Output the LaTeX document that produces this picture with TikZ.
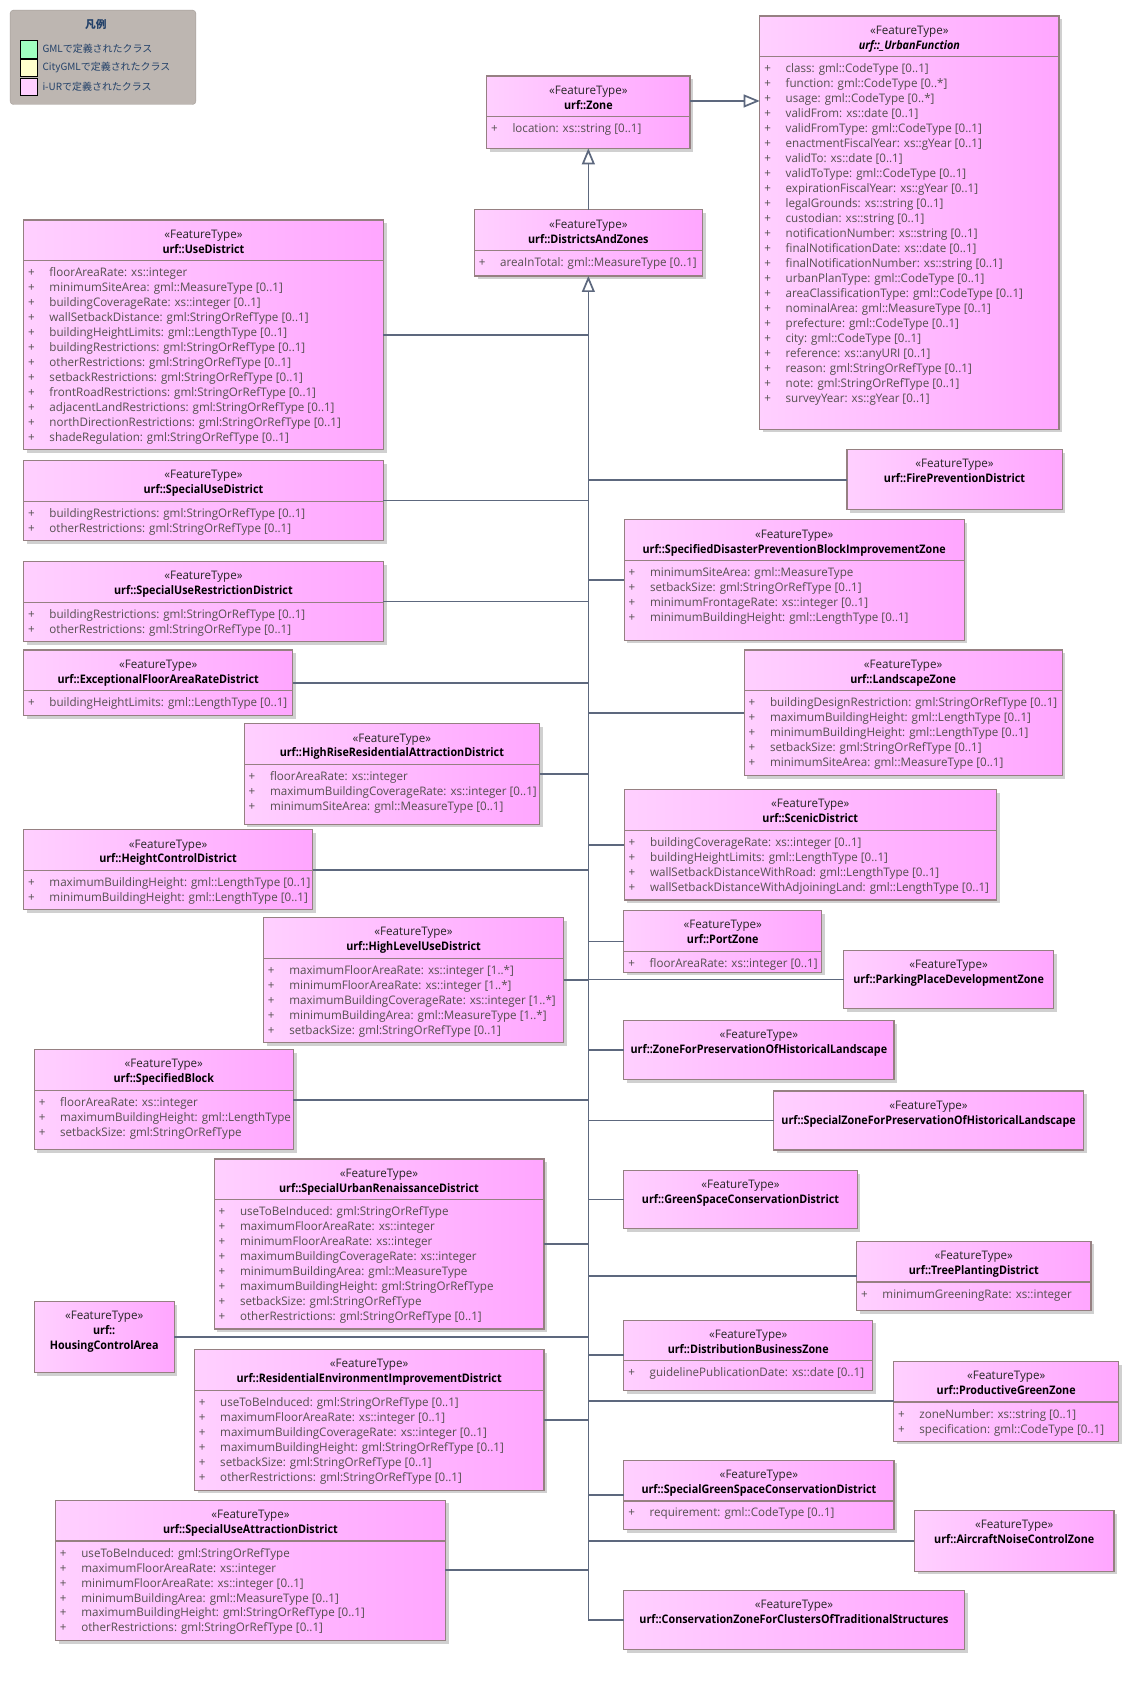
\documentclass[tikz,border=0pt]{standalone}
\usepackage{fontspec}
\setmainfont{Open Sans}[FakeStretch=0.985]
\newfontfamily\jpfont{Noto Sans CJK JP}
\newfontfamily\titlefont{Open Sans}[FakeStretch=0.915]
\usetikzlibrary{arrows.meta,calc}

\definecolor{pinkL}{RGB}{255,208,255}
\definecolor{pinkR}{RGB}{255,166,255}
\definecolor{boxborder}{RGB}{150,128,130}
\definecolor{shadowc}{RGB}{208,208,208}
\definecolor{connc}{RGB}{93,104,126}
\definecolor{attrc}{RGB}{85,80,80}
\definecolor{legfill}{RGB}{189,182,177}
\definecolor{legborder}{RGB}{165,158,152}
\definecolor{legtext}{RGB}{35,65,105}
\definecolor{leggreen}{RGB}{160,255,192}
\definecolor{legyellow}{RGB}{255,255,204}
\definecolor{legpink}{RGB}{255,208,255}

\tikzset{
 classbox/.style={draw=boxborder, line width=1.1pt, left color=pinkL, right color=pinkR, inner sep=0pt, outer sep=0pt},
 boxshadow/.style={fill=shadowc},
 sepline/.style={draw=boxborder, line width=1.1pt},
 stereo/.style={anchor=base, inner sep=0pt, font=\fontsize{11}{14}\selectfont, text=black!85},
 ctitle/.style={anchor=base, inner sep=0pt, font=\fontsize{11}{14}\selectfont\titlefont\bfseries, text=black},
 attr/.style={anchor=base west, inner sep=0pt, font=\fontsize{11}{14}\selectfont, text=attrc},
 conn/.style={draw=connc, line width=1.6pt},
 genarrow/.style={conn, -{Triangle[length=15pt, width=12pt, fill=white]}},
 legsq/.style={draw=black, line width=0.9pt, minimum size=16pt, inner sep=0pt, anchor=north west},
 legtxt/.style={anchor=west, inner sep=0pt, font=\jpfont\fontsize{9.3}{11}\selectfont, text=legtext},
}

% id, x1, y1, x2, y2, title, attributes
\newcommand{\umlbox}[7]{%
 \fill[boxshadow] (#2+3,#3+3) rectangle (#4+3,#5+3);
 \node[classbox, anchor=north west, minimum width={#4-#2}, minimum height={#5-#3}] (#1) at (#2,#3) {};
 \node[stereo] (#1-s) at ({(#2+#4)/2},#3+17) {«FeatureType»};
 \node[ctitle] (#1-t) at ({(#2+#4)/2},#3+31) {#6};
 \draw[sepline] (#2,#3+38) -- (#4,#3+38);
 \foreach \a [count=\i from 0] in {#7} {
   \node[attr] (#1-p\i) at (#2+4,#3+53+14*\i) {+};
   \node[attr] (#1-a\i) at (#2+24,#3+53+14*\i) {\a};
 }
}
% id, x1, y1, x2, y2, title (no attributes)
\newcommand{\umlboxN}[6]{%
 \fill[boxshadow] (#2+3,#3+3) rectangle (#4+3,#5+3);
 \node[classbox, anchor=north west, minimum width={#4-#2}, minimum height={#5-#3}] (#1) at (#2,#3) {};
 \node[stereo] (#1-s) at ({(#2+#4)/2},#3+17) {«FeatureType»};
 \node[ctitle] (#1-t) at ({(#2+#4)/2},#3+31) {#6};
}

\begin{document}
\begin{tikzpicture}[x=1pt,y=-1pt]
\fill[white] (0,0) rectangle (1054,1570);
\useasboundingbox (0,0) rectangle (1054,1570);

% legend
\node[draw=legborder, fill=legfill, rounded corners=3pt, anchor=north west, minimum width=173.4pt, minimum height=88.1pt, inner sep=0pt] (legend) at (9.3,9.3) {};
\node[inner sep=0pt, font=\jpfont\bfseries\fontsize{10}{12}\selectfont, text=legtext] (legtitle) at (89.6,22.4) {凡例};
\node[legsq, fill=leggreen] (lg1) at (18.7,37.8) {};
\node[legsq, fill=legyellow] (lg2) at (18.7,55.3) {};
\node[legsq, fill=legpink] (lg3) at (18.7,73.0) {};
\node[legtxt] (lt1) at (39.5,45.4) {GMLで定義されたクラス};
\node[legtxt] (lt2) at (39.5,63.1) {CityGMLで定義されたクラス};
\node[legtxt] (lt3) at (39.5,80.6) {i-URで定義されたクラス};

% classes
\umlbox{Zone}{454.5}{71}{644.5}{138.5}{urf::Zone}{location: xs::string [0..1]}
\umlbox{UF}{709.6}{15}{989}{400.9}{\itshape urf::\_UrbanFunction}{class: gml::CodeType [0..1],
 function: gml::CodeType [0..*],
 usage: gml::CodeType [0..*],
 validFrom: xs::date [0..1],
 validFromType: gml::CodeType [0..1],
 enactmentFiscalYear: xs::gYear [0..1],
 validTo: xs::date [0..1],
 validToType: gml::CodeType [0..1],
 expirationFiscalYear: xs::gYear [0..1],
 legalGrounds: xs::string [0..1],
 custodian: xs::string [0..1],
 notificationNumber: xs::string [0..1],
 finalNotificationDate: xs::date [0..1],
 finalNotificationNumber: xs::string [0..1],
 urbanPlanType: gml::CodeType [0..1],
 areaClassificationType: gml::CodeType [0..1],
 nominalArea: gml::MeasureType [0..1],
 prefecture: gml::CodeType [0..1],
 city: gml::CodeType [0..1],
 reference: xs::anyURI [0..1],
 reason: gml:StringOrRefType [0..1],
 note: gml:StringOrRefType [0..1],
 surveyYear: xs::gYear [0..1]}
\umlbox{DZ}{443}{196}{656}{257.7}{urf::DistrictsAndZones}{areaInTotal: gml::MeasureType [0..1]}

\umlbox{UseD}{22}{205.4}{358}{420}{urf::UseDistrict}{floorAreaRate: xs::integer,
 minimumSiteArea: gml::MeasureType [0..1],
 buildingCoverageRate: xs::integer [0..1],
 wallSetbackDistance: gml:StringOrRefType [0..1],
 buildingHeightLimits: gml::LengthType [0..1],
 buildingRestrictions: gml:StringOrRefType [0..1],
 otherRestrictions: gml:StringOrRefType [0..1],
 setbackRestrictions: gml:StringOrRefType [0..1],
 frontRoadRestrictions: gml:StringOrRefType [0..1],
 adjacentLandRestrictions: gml:StringOrRefType [0..1],
 northDirectionRestrictions: gml:StringOrRefType [0..1],
 shadeRegulation: gml:StringOrRefType [0..1]}
\umlbox{SUD}{22}{430}{358}{504.8}{urf::SpecialUseDistrict}{buildingRestrictions: gml:StringOrRefType [0..1],
 otherRestrictions: gml:StringOrRefType [0..1]}
\umlbox{SURD}{22}{524.4}{358}{599}{urf::SpecialUseRestrictionDistrict}{buildingRestrictions: gml:StringOrRefType [0..1],
 otherRestrictions: gml:StringOrRefType [0..1]}
\umlbox{Exc}{22}{607}{273.5}{668.5}{urf::ExceptionalFloorAreaRateDistrict}{buildingHeightLimits: gml::LengthType [0..1]}
\umlbox{HRR}{228}{676}{504}{769.7}{urf::HighRiseResidentialAttractionDistrict}{floorAreaRate: xs::integer,
 maximumBuildingCoverageRate: xs::integer [0..1],
 minimumSiteArea: gml::MeasureType [0..1]}
\umlbox{HCD}{22}{775}{292}{849.7}{urf::HeightControlDistrict}{maximumBuildingHeight: gml::LengthType [0..1],
 minimumBuildingHeight: gml::LengthType [0..1]}
\umlbox{HLU}{246}{857}{526.5}{974}{urf::HighLevelUseDistrict}{maximumFloorAreaRate: xs::integer [1..*],
 minimumFloorAreaRate: xs::integer [1..*],
 maximumBuildingCoverageRate: xs::integer [1..*],
 minimumBuildingArea: gml::MeasureType [1..*],
 setbackSize: gml:StringOrRefType [0..1]}
\umlbox{SB}{32}{980.4}{274}{1073.7}{urf::SpecifiedBlock}{floorAreaRate: xs::integer,
 maximumBuildingHeight: gml::LengthType,
 setbackSize: gml:StringOrRefType}
\umlbox{SURen}{200}{1082.5}{508}{1241.2}{urf::SpecialUrbanRenaissanceDistrict}{useToBeInduced: gml:StringOrRefType,
 maximumFloorAreaRate: xs::integer,
 minimumFloorAreaRate: xs::integer,
 maximumBuildingCoverageRate: xs::integer,
 minimumBuildingArea: gml::MeasureType,
 maximumBuildingHeight: gml:StringOrRefType,
 setbackSize: gml:StringOrRefType,
 otherRestrictions: gml:StringOrRefType [0..1]}
% HousingControlArea (three-line header)
\fill[boxshadow] (35,1218.4) rectangle (165.6,1284.7);
\node[classbox, anchor=north west, minimum width=130.6pt, minimum height=66.3pt] (HCA) at (32,1215.4) {};
\node[stereo] (HCA-s) at (97.3,1232.4) {«FeatureType»};
\node[ctitle] (HCA-t1) at (97.3,1246.4) {urf::};
\node[ctitle] (HCA-t2) at (97.3,1260.4) {HousingControlArea};

\umlbox{REI}{181.5}{1260.5}{508}{1391.8}{urf::ResidentialEnvironmentImprovementDistrict}{useToBeInduced: gml:StringOrRefType [0..1],
 maximumFloorAreaRate: xs::integer [0..1],
 maximumBuildingCoverageRate: xs::integer [0..1],
 maximumBuildingHeight: gml:StringOrRefType [0..1],
 setbackSize: gml:StringOrRefType [0..1],
 otherRestrictions: gml:StringOrRefType [0..1]}
\umlbox{SUA}{51.8}{1401.2}{416}{1532}{urf::SpecialUseAttractionDistrict}{useToBeInduced: gml:StringOrRefType,
 maximumFloorAreaRate: xs::integer,
 minimumFloorAreaRate: xs::integer [0..1],
 minimumBuildingArea: gml::MeasureType [0..1],
 maximumBuildingHeight: gml:StringOrRefType [0..1],
 otherRestrictions: gml:StringOrRefType [0..1]}

% right column
\umlboxN{FPD}{791}{420}{992}{476}{urf::FirePreventionDistrict}
\umlbox{SDP}{583}{485.5}{900.5}{598}{urf::SpecifiedDisasterPreventionBlockImprovementZone}{minimumSiteArea: gml::MeasureType,
 setbackSize: gml:StringOrRefType [0..1],
 minimumFrontageRate: xs::integer [0..1],
 minimumBuildingHeight: gml::LengthType [0..1]}
\umlbox{LZ}{695}{607}{992}{724.5}{urf::LandscapeZone}{buildingDesignRestriction: gml:StringOrRefType [0..1],
 maximumBuildingHeight: gml::LengthType [0..1],
 minimumBuildingHeight: gml::LengthType [0..1],
 setbackSize: gml:StringOrRefType [0..1],
 minimumSiteArea: gml::MeasureType [0..1]}
\umlbox{SD}{583}{737.6}{930.6}{840.5}{urf::ScenicDistrict}{buildingCoverageRate: xs::integer [0..1],
 buildingHeightLimits: gml::LengthType [0..1],
 wallSetbackDistanceWithRoad: gml::LengthType [0..1],
 wallSetbackDistanceWithAdjoiningLand: gml::LengthType [0..1]}
\umlbox{PZ}{582.6}{850.6}{767.5}{908}{urf::PortZone}{floorAreaRate: xs::integer [0..1]}
\umlboxN{PPD}{788}{887.6}{984}{942}{urf::ParkingPlaceDevelopmentZone}
\umlboxN{ZFP}{582.6}{953}{835}{1008.4}{urf::ZoneForPreservationOfHistoricalLandscape}
\umlboxN{SZFP}{722.7}{1019}{1011.8}{1074}{urf::SpecialZoneForPreservationOfHistoricalLandscape}
\umlboxN{GSC}{582.6}{1093}{800.6}{1147.6}{urf::GreenSpaceConservationDistrict}
\umlbox{TPD}{800}{1159.3}{1019}{1223.8}{urf::TreePlantingDistrict}{minimumGreeningRate: xs::integer}
\umlbox{DBZ}{582.6}{1233}{815}{1298.5}{urf::DistributionBusinessZone}{guidelinePublicationDate: xs::date [0..1]}
\umlbox{PGZ}{834.5}{1271.4}{1045}{1346}{urf::ProductiveGreenZone}{zoneNumber: xs::string [0..1],
 specification: gml::CodeType [0..1]}
\umlbox{SGS}{582.6}{1363.8}{835}{1428.6}{urf::SpecialGreenSpaceConservationDistrict}{requirement: gml::CodeType [0..1]}
\umlboxN{ANC}{854}{1410.8}{1040.5}{1467.5}{urf::AircraftNoiseControlZone}
\umlboxN{CZT}{582.6}{1485.2}{900.6}{1540.6}{urf::ConservationZoneForClustersOfTraditionalStructures}

% generalizations
\draw[genarrow] (Zone.east |- 0,94.3) -- (UF.west |- 0,94.3);
\draw[genarrow] (DZ.north) -- (Zone.south);
\coordinate (trunkend) at (DZ.south |- CZT.west);
\draw[genarrow] (trunkend) -- (DZ.south);
\draw[conn] (trunkend) -- (CZT.west);
\foreach \n in {UseD,SUD,SURD,Exc,HRR,HCD,HLU,SB,SURen,HCA,REI,SUA} {
  \draw[conn] (\n.east) -- (DZ.south |- \n.east);
}
\foreach \n in {FPD,SDP,LZ,SD,PZ,PPD,ZFP,SZFP,GSC,TPD,DBZ,PGZ,SGS,ANC} {
  \draw[conn] (DZ.south |- \n.west) -- (\n.west);
}
\end{tikzpicture}
\end{document}
